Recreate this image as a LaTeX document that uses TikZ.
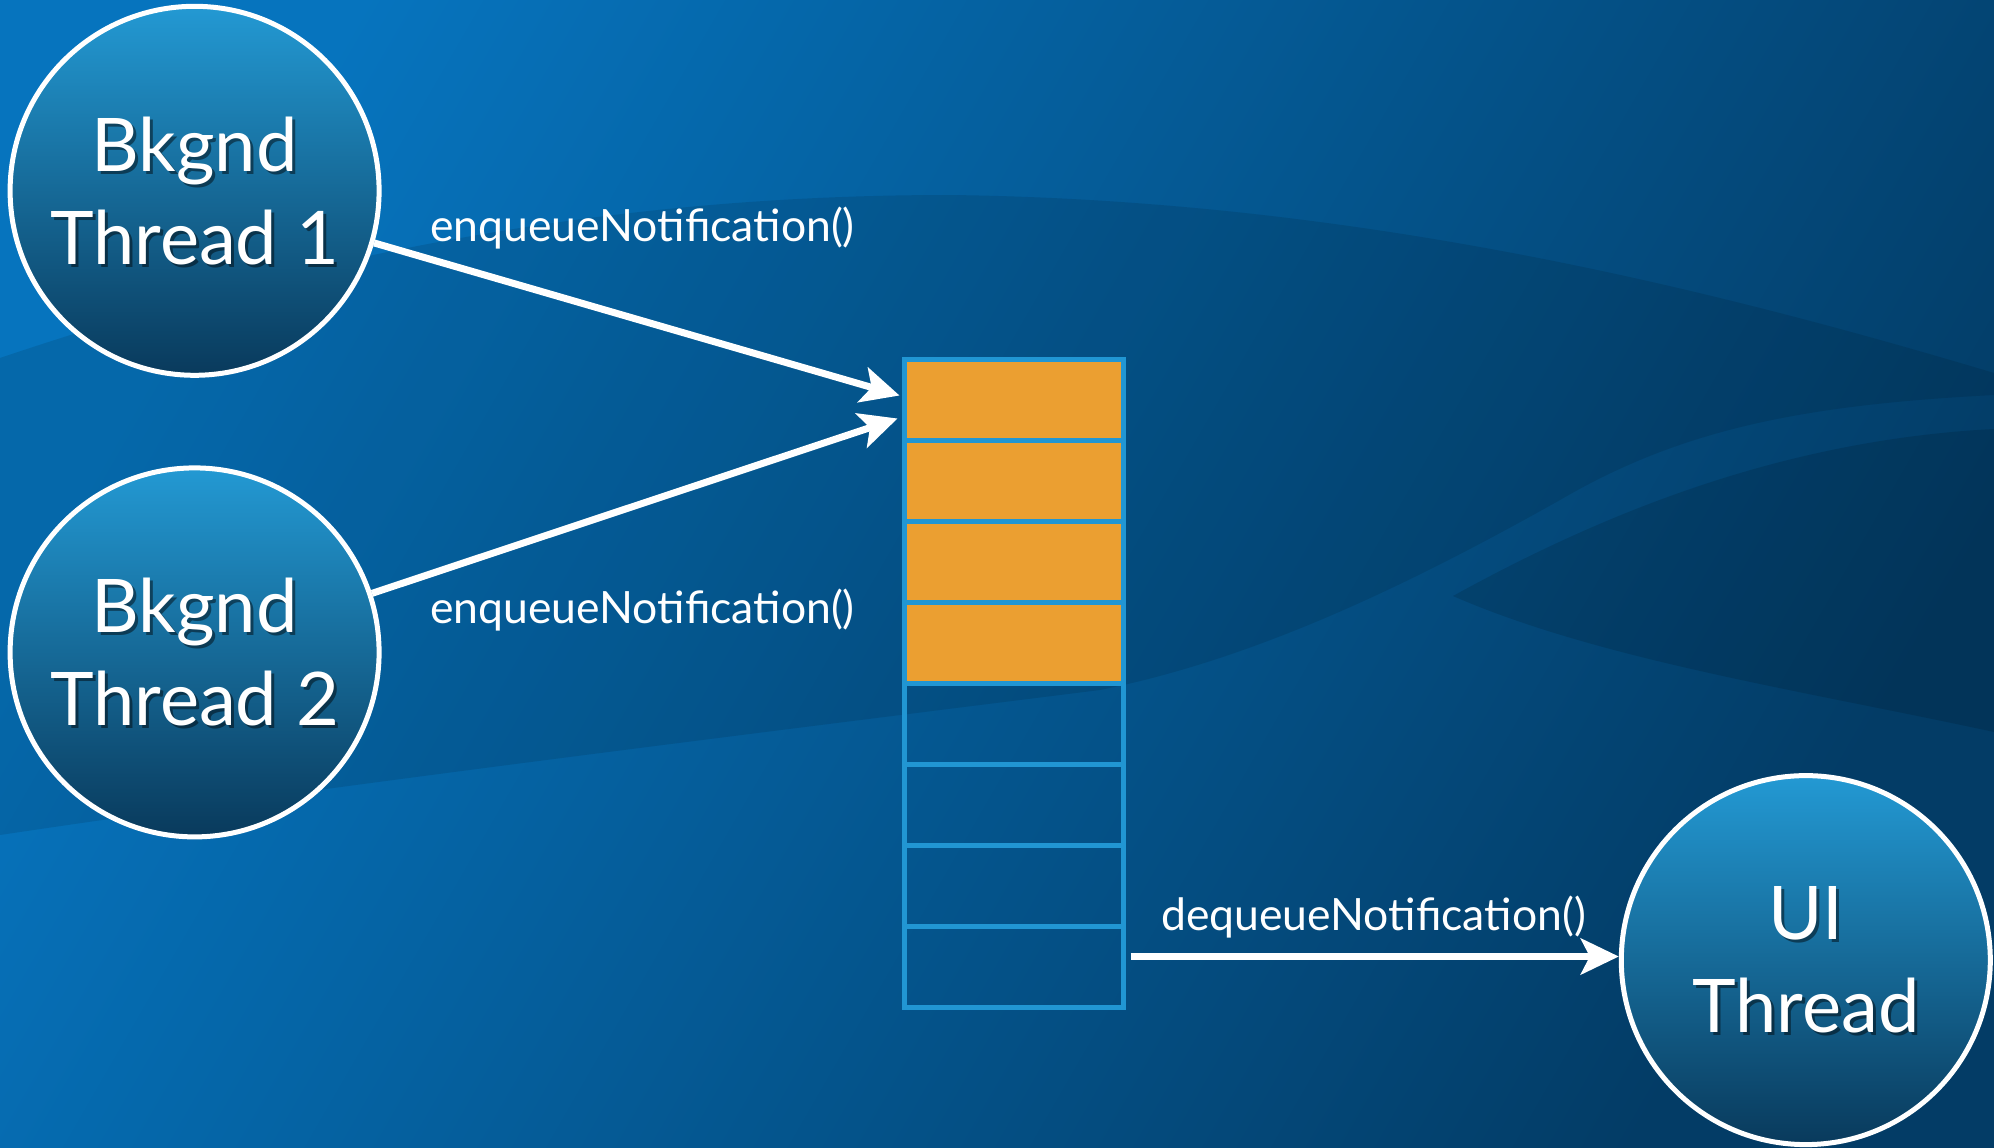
\documentclass[tikz,border=0pt]{standalone}
\usepackage{fontspec}
\setmainfont{Lato}
\usetikzlibrary{arrows.meta,calc}
\definecolor{bgA}{HTML}{0674BE}
\definecolor{bgB}{HTML}{033C66}
\definecolor{circTop}{HTML}{2399D3}
\definecolor{circBot}{HTML}{093A5C}
\definecolor{qblue}{HTML}{2196D3}
\definecolor{qorange}{HTML}{EB9F31}
\tikzset{
  thread/.style={circle, draw=white, line width=5pt, minimum size=369pt, inner sep=0pt,
    top color=circTop, bottom color=circBot},
  bigtext/.style={align=center, text=white, inner sep=0pt,
    font=\fontsize{74}{93}\selectfont},
  bigshadow/.style={bigtext, text=black, text opacity=0.45},
  cellbox/.style={rectangle, draw=qblue, line width=5pt, minimum width=219pt,
    minimum height=81pt, inner sep=0pt},
  fullcell/.style={cellbox, fill=qorange},
  emptycell/.style={cellbox},
  msg/.style={text=white, inner sep=0pt, anchor=base west, font=\fontsize{44.5}{50}\selectfont},
  arr/.style={draw=white, line width=7pt, -{Stealth[length=38pt,width=36pt,inset=9pt]}}
}
\begin{document}
\begin{tikzpicture}[x=1pt,y=-1pt]
% background
\shade[top color=bgA, bottom color=bgB, shading angle=60] (0,0) rectangle (1994,1148);
\useasboundingbox (0,0) rectangle (1994,1148);
% swooshes
\fill[black, opacity=0.10] (0,358) .. controls (350,240) and (650,195) .. (950,195)
  .. controls (1350,200) and (1700,285) .. (1994,373) -- (1994,395)
  .. controls (1800,405) and (1680,430) .. (1560,500)
  .. controls (1400,590) and (1250,660) .. (1100,690)
  .. controls (700,740) and (300,790) .. (0,835) -- cycle;
\fill[black, opacity=0.12] (1453,596) .. controls (1600,515) and (1780,440) .. (1994,429)
  -- (1994,732) .. controls (1800,690) and (1600,660) .. (1453,596) -- cycle;
% threads
\node[thread] (c1) at (194.6,190.8) {};
\node[thread] (c2) at (194.6,652.4) {};
\node[thread] (ui) at (1805.8,960.1) {};
\node[bigshadow] (c1s) at ($(c1)+(3,3)$) {Bkgnd\\Thread 1};
\node[bigtext] (c1t) at (c1) {Bkgnd\\Thread 1};
\node[bigshadow] (c2s) at ($(c2)+(3,3)$) {Bkgnd\\Thread 2};
\node[bigtext] (c2t) at (c2) {Bkgnd\\Thread 2};
\node[bigshadow] (uis) at ($(ui)+(3,3)$) {UI\\Thread};
\node[bigtext] (uit) at (ui) {UI\\Thread};
% queue
\foreach \i in {5,...,8} {
  \node[emptycell] (cell\i) at (1013.5,{399.5+81*(\i-1)}) {};
}
\foreach \i in {1,...,4} {
  \node[fullcell] (cell\i) at (1013.5,{399.5+81*(\i-1)}) {};
}
\coordinate (in1) at ($(cell1.west)+(-2,-4)$);
\coordinate (in2) at ($(cell1.west)+(-4,19)$);
\coordinate (out) at ($(cell8.east)+(5,-10)$);
% connectors
\draw[arr] (c1) -- (in1);
\draw[arr] (c2) -- (in2);
\draw[arr] (out) -- (ui.west |- out);
% labels
\node[msg] (l1) at (430,241) {enqueueNotification()};
\node[msg] (l2) at (430,623) {enqueueNotification()};
\node[msg] (l3) at (1161,930) {dequeueNotification()};
\end{tikzpicture}
\end{document}
